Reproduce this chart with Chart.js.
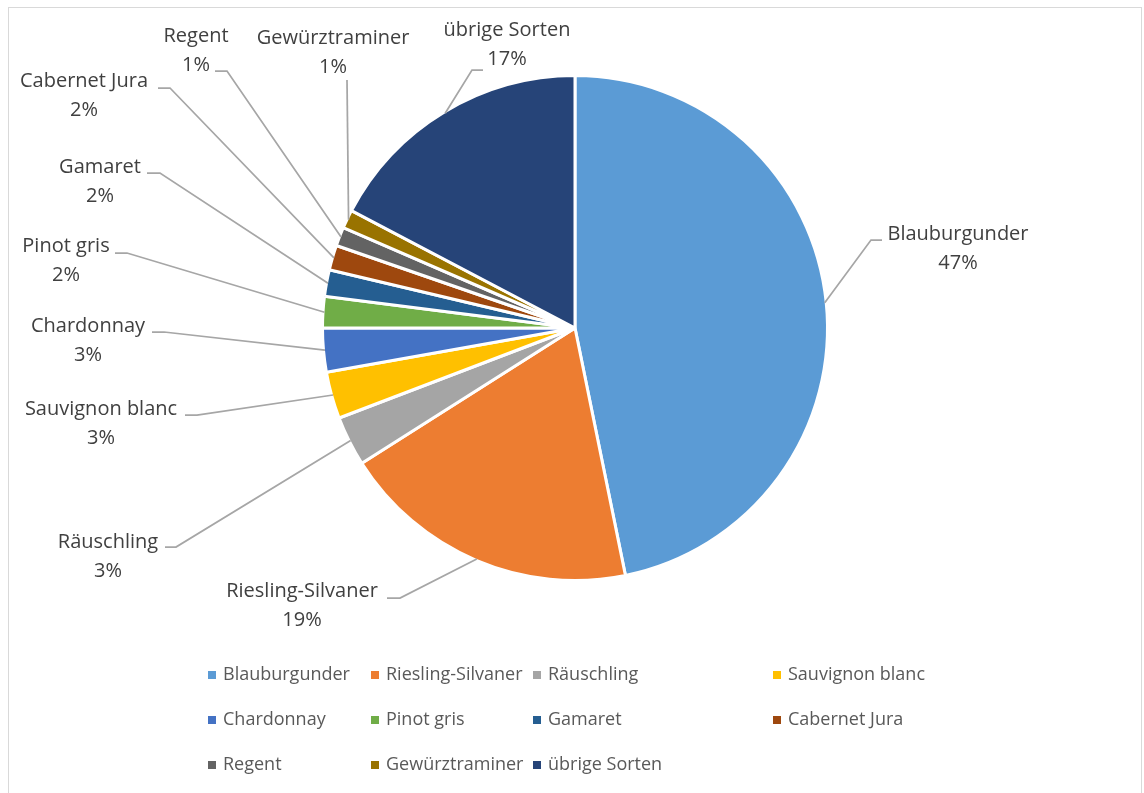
<!DOCTYPE html>
<html>
<head>
<meta charset="utf-8">
<script src="https://cdn.jsdelivr.net/npm/chart.js@4.4.1/dist/chart.umd.min.js"></script>
<style>
  html, body { margin: 0; padding: 0; background: #fff; }
  canvas { display: block; }
</style>
</head>
<body>
<canvas id="wineChart" width="1144" height="793"></canvas>
<script>
const categories = [
  "Blauburgunder", "Riesling-Silvaner", "Räuschling", "Sauvignon blanc",
  "Chardonnay", "Pinot gris", "Gamaret", "Cabernet Jura",
  "Regent", "Gewürztraminer", "übrige Sorten"
];
const shares = [46.8, 19.2, 3.2, 3.0, 2.8, 2.0, 1.7, 1.6, 1.2, 1.2, 17.3];
const sliceColors = [
  "#5B9BD5", "#ED7D31", "#A5A5A5", "#FFC000",
  "#4472C4", "#70AD47", "#255E91", "#9E480E",
  "#636363", "#997300", "#264478"
];

// where each data label sits (centre of name line) and where its leader line starts
const labelSpots = [
  { x: 958, y: 234, lx: 882, ly: 240, elbow: -11 },
  { x: 302, y: 591, lx: 387, ly: 598, elbow: 13 },
  { x: 108, y: 542, lx: 165, ly: 547, elbow: 11 },
  { x: 101, y: 409, lx: 185, ly: 415, elbow: 12 },
  { x: 88,  y: 326, lx: 152, ly: 332, elbow: 12 },
  { x: 66,  y: 246, lx: 115, ly: 253, elbow: 12 },
  { x: 100, y: 167, lx: 147, ly: 173, elbow: 13 },
  { x: 84,  y: 81,  lx: 158, ly: 88,  elbow: 12 },
  { x: 196, y: 36,  lx: 215, ly: 71,  elbow: 12 },
  { x: 333, y: 38,  lx: 347, ly: 80,  elbow: 0 },
  { x: 507, y: 30,  lx: 483, ly: 70,  elbow: -11 }
];
const legendCols = [208, 371, 533, 773];
const legendRows = [675, 720, 765];

const FONT = '"Open Sans", "Noto Sans", sans-serif';

const frameAndLabels = {
  id: "frameAndLabels",
  beforeDraw(chart) {
    const ctx = chart.ctx;
    ctx.save();
    ctx.strokeStyle = "#d9d9d9";
    ctx.lineWidth = 1;
    ctx.strokeRect(8.5, 7.5, 1133, 800);
    ctx.restore();
  },
  afterDatasetsDraw(chart) {
    const ctx = chart.ctx;
    const arcs = chart.getDatasetMeta(0).data;
    const total = shares.reduce((a, b) => a + b, 0);
    ctx.save();
    arcs.forEach((arc, i) => {
      const spot = labelSpots[i];
      const p = arc.getProps(["x", "y", "startAngle", "endAngle", "outerRadius"], true);
      const mid = (p.startAngle + p.endAngle) / 2;
      const r = p.outerRadius - 1.5;
      const ex = p.x + Math.cos(mid) * r;
      const ey = p.y + Math.sin(mid) * r;

      ctx.beginPath();
      ctx.moveTo(spot.lx, spot.ly);
      ctx.lineTo(spot.lx + spot.elbow, spot.ly);
      ctx.lineTo(ex, ey);
      ctx.strokeStyle = "#a6a6a6";
      ctx.lineWidth = 1.75;
      ctx.stroke();

      ctx.fillStyle = "#404040";
      ctx.font = "20px " + FONT;
      ctx.textAlign = "center";
      ctx.textBaseline = "middle";
      ctx.fillText(chart.data.labels[i], spot.x, spot.y);
      ctx.fillText(Math.round(shares[i] / total * 100) + "%", spot.x, spot.y + 29);
    });
    ctx.restore();
  },
  afterDraw(chart) {
    // legend in an Excel-like grid, 4 columns
    const ctx = chart.ctx;
    const colors = chart.data.datasets[0].backgroundColor;
    ctx.save();
    ctx.font = "18px " + FONT;
    ctx.textAlign = "left";
    ctx.textBaseline = "middle";
    chart.data.labels.forEach((name, i) => {
      const cx = legendCols[i % 4];
      const cy = legendRows[Math.floor(i / 4)];
      ctx.fillStyle = colors[i];
      ctx.fillRect(cx, cy - 4, 8, 8);
      ctx.fillStyle = "#595959";
      ctx.fillText(name, cx + 15, cy);
    });
    ctx.restore();
  }
};

new Chart(document.getElementById("wineChart"), {
  type: "pie",
  data: {
    labels: categories,
    datasets: [{
      data: shares,
      backgroundColor: sliceColors,
      borderColor: "#ffffff",
      borderWidth: 3
    }]
  },
  options: {
    responsive: false,
    animation: false,
    events: [],
    layout: {
      padding: { left: 321, right: 315, top: 74, bottom: 211 }
    },
    plugins: {
      legend: { display: false },
      tooltip: { enabled: false }
    }
  },
  plugins: [frameAndLabels]
});
</script>
</body>
</html>
